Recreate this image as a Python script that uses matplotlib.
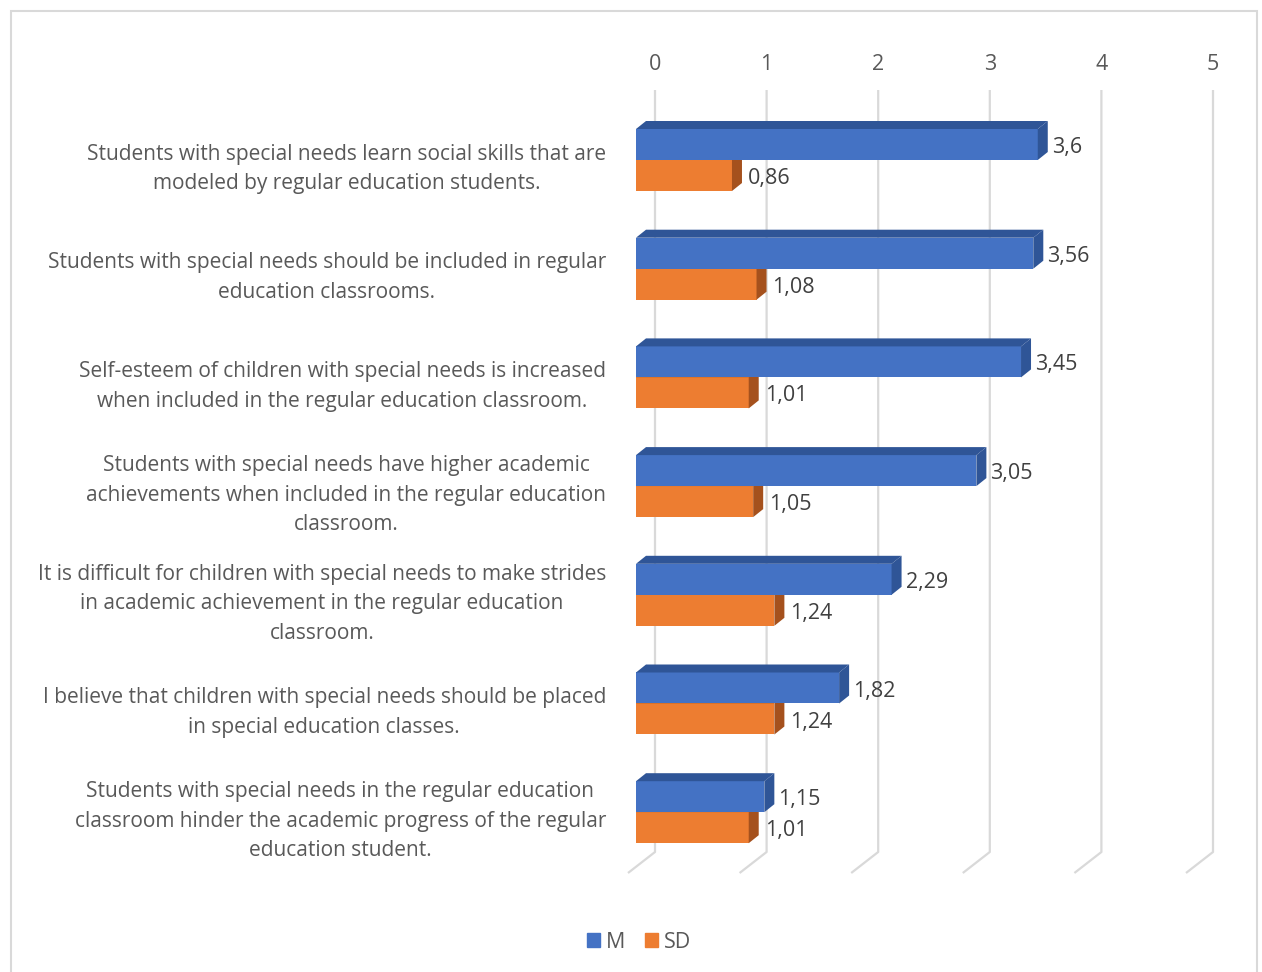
import matplotlib
matplotlib.use("Agg")
import matplotlib.pyplot as plt
from matplotlib.patches import Polygon, Rectangle
from matplotlib.lines import Line2D

plt.rcParams['font.family'] = ['Open Sans', 'DejaVu Sans']

statements = [
    "Students with special needs learn social skills that are\nmodeled by regular education students.",
    "Students with special needs should be included in regular\neducation classrooms.",
    "Self-esteem of children with special needs is increased\nwhen included in the regular education classroom.",
    "Students with special needs have higher academic\nachievements when included in the regular education\nclassroom.",
    "It is difficult for children with special needs to make strides\nin academic achievement in the regular education\nclassroom.",
    "I believe that children with special needs should be placed\nin special education classes.",
    "Students with special needs in the regular education\nclassroom hinder the academic progress of the regular\neducation student.",
]
mean_vals = [3.6, 3.56, 3.45, 3.05, 2.29, 1.82, 1.15]
sd_vals = [0.86, 1.08, 1.01, 1.05, 1.24, 1.24, 1.01]
series_names = ["M", "SD"]
axis_ticks = [0, 1, 2, 3, 4, 5]

W, H = 1262, 972
DPI = 100
fig = plt.figure(figsize=(W / DPI, H / DPI), dpi=DPI)

# pixel geometry of the plot area
x0_px = 636.0        # value 0 on the front plane
ux = 111.6           # pixels per unit value
y0_px = 160.0        # first category centre (from top)
uy = 108.7           # pixels per category
ax_l, ax_r = 600.0, 1250.0
ax_t, ax_b = 85.0, 885.0

ax = fig.add_axes([ax_l / W, 1 - ax_b / H, (ax_r - ax_l) / W, (ax_b - ax_t) / H])
ax.set_xlim((ax_l - x0_px) / ux, (ax_r - x0_px) / ux)
ax.set_ylim((ax_b - y0_px) / uy, (ax_t - y0_px) / uy)
ax.axis('off')

def px2x(dpx):
    return dpx / ux

def px2y(dpx):
    return dpx / uy

# back-wall gridlines with floor diagonal
grid_c = '#d9d9d9'
back_dx = px2x(19)
g_top = px2y(90 - y0_px)
g_bot = px2y(852 - y0_px)
g_floor = px2y(873 - y0_px)
for t in axis_ticks:
    ax.add_line(Line2D([t + back_dx, t + back_dx, t - px2x(8)],
                       [g_top, g_bot, g_floor],
                       color=grid_c, lw=1.6, zorder=1, solid_capstyle='butt'))

bar_h = px2y(31)
dep_x = px2x(10)
dep_y = px2y(8)
colors = {"M": ('#4472c4', '#2f5597', '#3a63ad'),
          "SD": ('#ed7d31', '#a5511d', '#c8671f')}

def draw_bar(yc, val, series, z):
    front, side, top = colors[series]
    ax.barh(yc, val, height=bar_h, left=0, color=front, edgecolor='none', zorder=z)
    y_top = yc - bar_h / 2
    y_bot = yc + bar_h / 2
    # top face
    ax.add_patch(Polygon([(0, y_top), (val, y_top), (val + dep_x, y_top - dep_y),
                          (dep_x, y_top - dep_y)], closed=True,
                         facecolor=side if series == "M" else top,
                         edgecolor='none', zorder=z))
    # right face
    ax.add_patch(Polygon([(val, y_top), (val + dep_x, y_top - dep_y),
                          (val + dep_x, y_bot - dep_y), (val, y_bot)], closed=True,
                         facecolor=side, edgecolor='none', zorder=z))

for i in range(len(statements)):
    yc_m = i - bar_h / 2
    yc_s = i + bar_h / 2
    draw_bar(yc_s, sd_vals[i], "SD", 3)
    draw_bar(yc_m, mean_vals[i], "M", 4)
    lbl_kw = dict(va='center', ha='left', fontsize=15.5, color='#404040', zorder=6)
    ax.text(mean_vals[i] + px2x(14), yc_m + px2y(3),
            f"{mean_vals[i]:g}".replace('.', ','), **lbl_kw)
    ax.text(sd_vals[i] + px2x(16), yc_s + px2y(3),
            f"{sd_vals[i]:g}".replace('.', ','), **lbl_kw)
    ax.text(px2x(606 - x0_px), i + px2y(9), statements[i], ha='right', va='center',
            multialignment='center', fontsize=15, color='#595959', linespacing=1.54,
            zorder=6)

# value axis labels along the top
for t in axis_ticks:
    ax.text(t + back_dx, px2y(65 - y0_px), str(t), ha='center', va='center',
            fontsize=15.5, color='#595959', clip_on=False)

# legend
fig.legend(handles=[Rectangle((0, 0), 1, 1, color=colors[s][0]) for s in series_names],
           labels=series_names, loc='center', bbox_to_anchor=(639 / W, 1 - 942 / H),
           ncol=2, frameon=False, fontsize=15.5, handlelength=0.6, handleheight=0.6,
           handletextpad=0.3, columnspacing=0.9, labelcolor='#595959')

# chart border
fig.add_artist(Rectangle((11 / W, -0.01), (1257 - 11) / W, (H - 11) / H + 0.01,
                         transform=fig.transFigure, fill=False, edgecolor='#d9d9d9',
                         lw=1.5))

fig.savefig('out.png', dpi=DPI)
